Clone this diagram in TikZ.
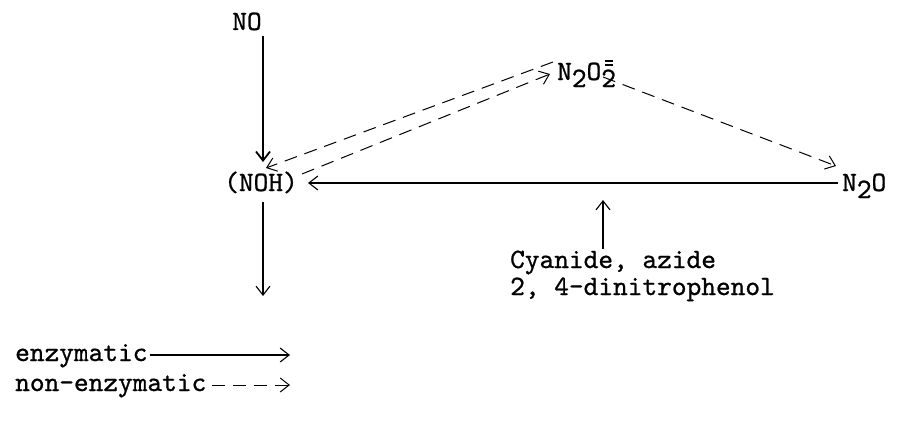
\documentclass[tikz,border=0pt]{standalone}
\usepackage{fontspec}
\newfontfamily\tw{lmmono10-regular}[Extension=.otf, FakeBold=0.9]
\usetikzlibrary{arrows.meta}
\newcommand{\lowtwo}{\raisebox{-7pt}{2}}
\newcommand{\dblbar}{\llap{\makebox[0.525em]{\rule[14pt]{8pt}{1.7pt}\kern-8pt\rule[18.5pt]{8pt}{1.7pt}}}}
\begin{document}
\begin{tikzpicture}[x=1pt,y=-1pt,
  lbl/.style={font=\tw\fontsize{28}{24}\selectfont, inner sep=0pt},
  tip/.style={-{Straight Barb[length=9pt,width=14pt]}},
  enz/.style={tip, line width=1.1pt},
  nonenz/.style={tip, line width=1pt, dash pattern=on 13pt off 8pt}]
\useasboundingbox (0,0) rectangle (911,423);
\node[lbl, anchor=base] (no) at (247,30) {NO};
\node[lbl, anchor=base] (noh) at (261,191) {(NOH)};
\node[lbl, anchor=base west] (n2o2) at (557,80) {N\lowtwo O\lowtwo\dblbar};
\node[lbl, anchor=base west] (n2o) at (842,191) {N\lowtwo O};
\node[lbl, anchor=base west] (cy) at (510,268) {Cyanide, azide};
\node[lbl, anchor=base west] (dnp) at (510,295) {2, 4-dinitrophenol};
\node[lbl, anchor=base west] (le) at (15,361) {enzymatic};
\node[lbl, anchor=base west] (ln) at (15,391) {non-enzymatic};
% coordinates
\coordinate (noA) at (263,36);
\coordinate (nohT) at (263,162);
\coordinate (nohB) at (263,202);
\coordinate (down) at (263,296);
\coordinate (u1) at (553,62);
\coordinate (u2) at (266,168);
\coordinate (l1) at (302,174);
\coordinate (l2) at (550,74);
\coordinate (m1) at (603,77);
\coordinate (m2) at (836,166);
\coordinate (h1) at (838,183);
\coordinate (h2) at (308,183);
\coordinate (c1) at (603,249);
\coordinate (c2) at (603,200);
\coordinate (e2) at (290,355);
\coordinate (n2) at (290,385);
\draw[enz, line width=1.8pt] (noA) -- (nohT);
\draw[enz] (nohB) -- (down);
\draw[enz] (h1) -- (h2);
\draw[enz] (c1) -- (c2);
\draw[nonenz] (u1) -- (u2);
\draw[nonenz] (l1) -- (l2);
\draw[nonenz] (m1) -- (m2);
\draw[enz] ([xshift=2pt]le.east |- e2) -- (e2);
\draw[nonenz] ([xshift=5pt]ln.east |- n2) -- (n2);
\end{tikzpicture}
\end{document}
